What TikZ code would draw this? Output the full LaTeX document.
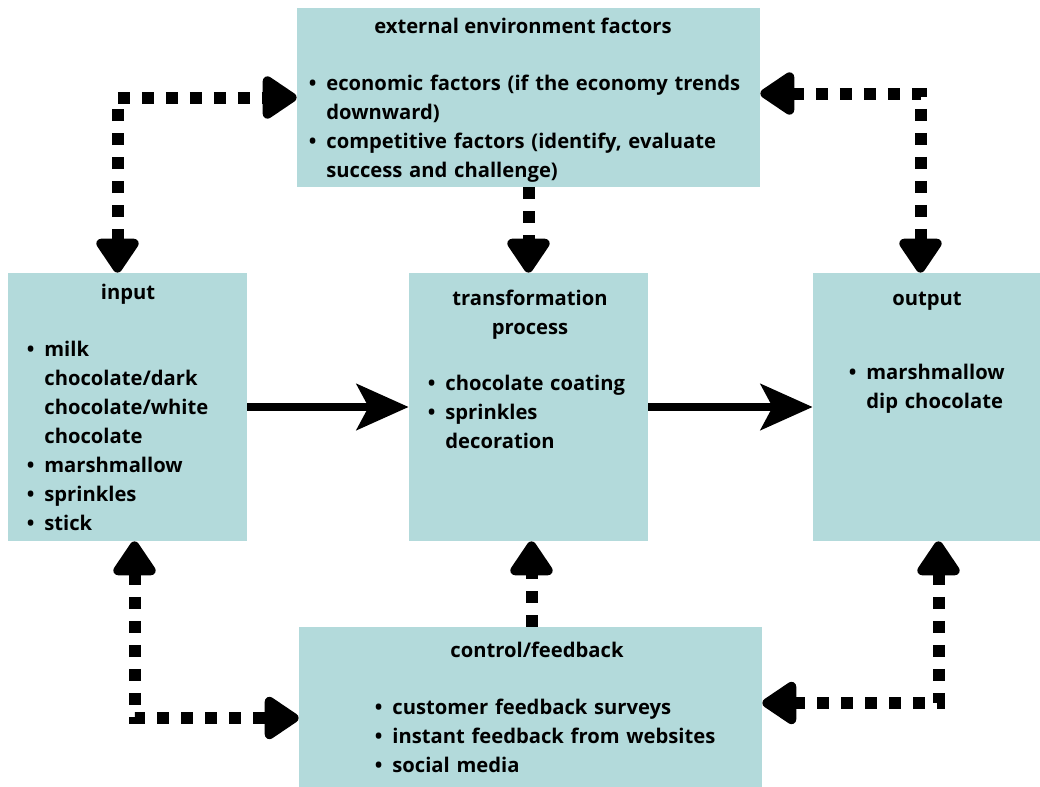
\documentclass[tikz,border=0pt]{standalone}
\usepackage{fontspec}
\setmainfont{Open Sans}
\usepackage{enumitem}
\usetikzlibrary{arrows.meta}
\definecolor{boxteal}{HTML}{B3DADB}
\newcommand{\blist}[1]{\begin{itemize}[leftmargin=8.5pt,labelsep=5pt,itemsep=0pt,topsep=0pt,parsep=0pt,partopsep=0pt,label=\textbullet]#1\end{itemize}}
\tikzset{
  box/.style={fill=boxteal, inner sep=0pt},
  ttl/.style={anchor=base, inner sep=0pt, align=center},
  lst/.style={anchor=north west, inner sep=0pt, text width=#1},
  dotline/.style={line width=6pt, dash pattern=on 6pt off 6pt},
  dotboth/.style={dotline, {Triangle[length=19pt,width=24pt,round]}-{Triangle[length=19pt,width=24pt,round]}},
  dotone/.style={dotline, -{Triangle[length=19pt,width=24pt,round]}},
  solidarrow/.style={line width=4pt, -{Stealth[length=26pt,width=23pt,inset=6pt]}}
}
\begin{document}
\begin{tikzpicture}[x=0.5pt, y=-0.5pt, font=\fontsize{10.1}{14.5}\selectfont\bfseries, line join=miter]
  \useasboundingbox (0,0) rectangle (1040,787);
  % boxes
  \node[box, minimum width=231.5pt, minimum height=89.5pt] (env) at (528.5,97.5) {};
  \node[box, minimum width=119.5pt, minimum height=134pt] (input) at (127.5,407) {};
  \node[box, minimum width=119.5pt, minimum height=134pt] (trans) at (528.5,407) {};
  \node[box, minimum width=113.5pt, minimum height=134pt] (output) at (926.5,407) {};
  \node[box, minimum width=231.5pt, minimum height=80pt] (ctrl) at (530.5,707) {};
  % texts
  \node[ttl] (env-title) at (523,33) {external environment factors};
  \node[lst=230pt] (env-list) at (309,61) {\blist{\item economic factors (if the economy trends\newline downward)
    \item competitive factors (identify, evaluate\newline success and challenge)}};
  \node[ttl] (input-title) at (128,299) {input};
  \node[lst=110pt] (input-list) at (27,327) {\blist{\item milk\newline chocolate/dark\newline chocolate/white\newline chocolate
    \item marshmallow \item sprinkles \item stick}};
  \node[ttl] (trans-title) at (530,334) {transformation\\process};
  \node[lst=110pt] (trans-list) at (428,361) {\blist{\item chocolate coating \item sprinkles\newline decoration}};
  \node[ttl] (output-title) at (927,305) {output};
  \node[lst=100pt] (output-list) at (849,350) {\blist{\item marshmallow\newline dip chocolate}};
  \node[ttl] (ctrl-title) at (537,657) {control/feedback};
  \node[lst=200pt] (ctrl-list) at (375,685) {\blist{\item customer feedback surveys
    \item instant feedback from websites \item social media}};
  % connectors
  \draw[dotboth] ([xshift=-5pt]input.north) |- (env.west);
  \draw[dotboth] ([yshift=2pt]env.east) -| ([xshift=-3pt]output.north);
  \draw[dotone] (env.south) -- (trans.north);
  \draw[dotboth] ([xshift=3.5pt]input.south) |- ([yshift=-5.5pt]ctrl.west);
  \draw[dotboth] ([xshift=6pt]output.south) |- ([yshift=2pt]ctrl.east);
  \draw[dotone] ([xshift=0.5pt]ctrl.north) -- ([xshift=1.5pt]trans.south);
  \draw[solidarrow] (input.east) -- (trans.west);
  \draw[solidarrow] (trans.east) -- (output.west);
\end{tikzpicture}
\end{document}
